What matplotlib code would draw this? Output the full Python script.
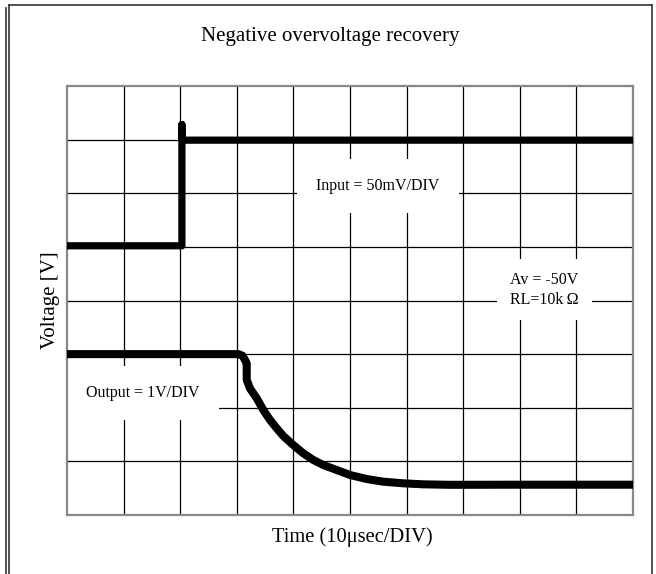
import matplotlib
matplotlib.use("Agg")
import matplotlib.pyplot as plt
from matplotlib.lines import Line2D

plt.rcParams['font.family'] = ['Liberation Serif', 'DejaVu Serif']

# Data (in divisions: x 0..10, y 0..8)
input_x = [0.0, 2.03, 2.03, 2.03, 2.06, 10.0]
input_y = [5.02, 5.02, 7.28, 7.0, 6.99, 6.99]

output_x = [0.0, 3.03, 3.10, 3.145, 3.175, 3.175, 3.233, 3.352, 3.468, 3.587,
            3.705, 3.822, 3.998, 4.175, 4.352, 4.528, 4.765, 5.0, 5.295,
            5.588, 5.942, 6.295, 6.767, 8.0, 10.0]
output_y = [3.0, 3.0, 2.97, 2.89, 2.83, 2.52, 2.36, 2.177, 1.958, 1.772,
            1.617, 1.473, 1.305, 1.150, 1.026, 0.932, 0.839, 0.746, 0.671,
            0.621, 0.591, 0.572, 0.563, 0.565, 0.565]

x_divs = list(range(0, 11))
y_divs = list(range(0, 9))

title = "Negative overvoltage recovery"
xlabel = "Time (10\u03bcsec/DIV)"
ylabel = "Voltage [V]"
input_label = "Input = 50mV/DIV"
output_label = "Output = 1V/DIV"
gain_label = "Av = -50V\nRL=10k\u2009\u03a9"

fig = plt.figure(figsize=(6.56, 5.74), dpi=100)
ax = fig.add_axes([67/656, 1 - 515/574, 566/656, 429/574])

ax.set_xlim(0, 10)
ax.set_ylim(0, 8)
for xv in x_divs[1:-1]:
    ax.axvline(xv, color='black', lw=0.9, zorder=1)
for yv in y_divs[1:-1]:
    ax.axhline(yv, color='black', lw=0.9, zorder=1)

ax.plot(input_x, input_y, color='black', lw=5.2, solid_capstyle='round',
        solid_joinstyle='round', zorder=3)
ax.plot(output_x, output_y, color='black', lw=5.8, solid_capstyle='butt',
        solid_joinstyle='round', zorder=3)

ax.set_xticks([])
ax.set_yticks([])
for s in ax.spines.values():
    s.set_color('#888888')
    s.set_linewidth(1.6)

ax.text(5.49, 6.14, input_label, ha='center', va='center', fontsize=11.5,
        zorder=2, bbox=dict(facecolor='white', edgecolor='none',
                            boxstyle='square,pad=1.2'))
ax.text(7.83, 4.2, gain_label, ha='left', va='center', fontsize=11.5,
        zorder=2, linespacing=1.3,
        bbox=dict(facecolor='white', edgecolor='none', boxstyle='square,pad=0.8'))
ax.text(1.34, 2.275, output_label, ha='center', va='center', fontsize=11.5,
        zorder=2, bbox=dict(facecolor='white', edgecolor='none',
                            boxstyle='square,pad=1.2'))

fig.text(330/656, 1 - 36/574, title, ha='center', va='center', fontsize=15)
fig.text(352/656, 1 - 537/574, xlabel, ha='center', va='center', fontsize=14.8)
fig.text(50/656, 1 - 300/574, ylabel, ha='center', va='center', fontsize=15,
         rotation=90)

# outer frame
fc = '#333333'
fig.add_artist(Line2D([9/656, 9/656], [0, 1 - 5/574], transform=fig.transFigure, color=fc, lw=1.2))
fig.add_artist(Line2D([6/656, 6/656], [0, 1 - 8/574], transform=fig.transFigure, color=fc, lw=1.2))
fig.add_artist(Line2D([9/656, 652/656], [1 - 5/574, 1 - 5/574], transform=fig.transFigure, color=fc, lw=1.2))
fig.add_artist(Line2D([652/656, 652/656], [0, 1 - 5/574], transform=fig.transFigure, color=fc, lw=1.2))

fig.savefig("out.png", dpi=100)
